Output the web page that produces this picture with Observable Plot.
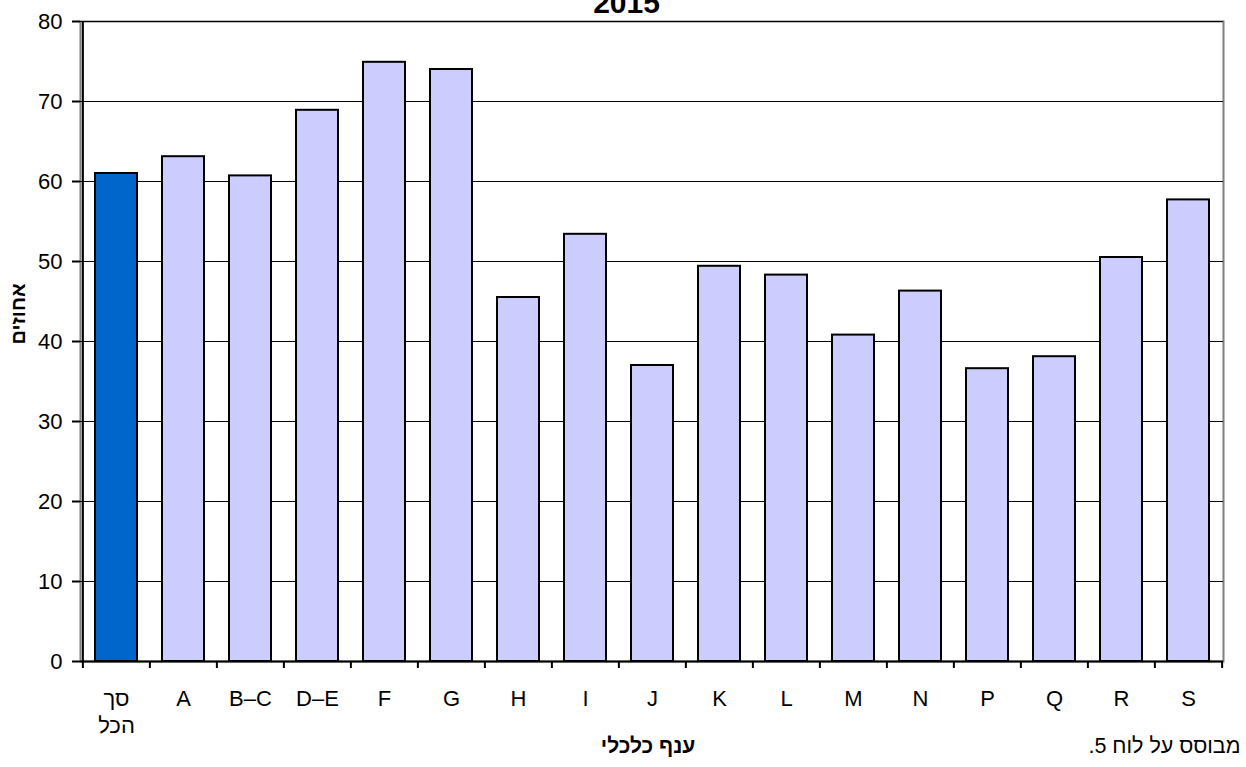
<!DOCTYPE html>
<html>
<head>
<meta charset="utf-8">
<script src="https://cdn.jsdelivr.net/npm/d3@7"></script>
<script src="https://cdn.jsdelivr.net/npm/@observablehq/plot@0.6"></script>
<style>
  html, body { margin: 0; padding: 0; background: #fff; }
  svg { font-family: "Liberation Sans", Arial, sans-serif; }
</style>
</head>
<body>
<div id="chart"></div>
<script>
const categories = ["סך הכל", "A", "B–C", "D–E", "F", "G", "H", "I", "J", "K", "L", "M", "N", "P", "Q", "R", "S"];
const values = [61.0, 63.1, 60.7, 68.9, 74.9, 74.0, 45.5, 53.4, 37.0, 49.4, 48.3, 40.8, 46.3, 36.6, 38.1, 50.5, 57.7];
const yTicks = [0, 10, 20, 30, 40, 50, 60, 70, 80];
const title = "2015";
const yLabel = "אחוזים";
const xLabel = "ענף כלכלי";
const caption = "מבוסס על לוח 5.\u200F";
const totalLabel = "סך הכל";

const data = categories.map((c, i) => ({cat: c, value: values[i]}));

const W = 1246, H = 767;
const mL = 80, mR = 23, mT = 21, mB = 106;
const step = (W - mL - mR) / categories.length;

const chart = Plot.plot({
  width: W,
  height: H,
  marginLeft: mL,
  marginRight: mR,
  marginTop: mT,
  marginBottom: mB,
  style: {fontFamily: "'Liberation Sans', Arial, sans-serif", fontSize: "22px", color: "#000", background: "#fff", overflow: "visible"},
  x: {domain: categories, paddingInner: 0.375, paddingOuter: 0.1875, label: null},
  y: {domain: [0, 80], ticks: yTicks, label: null},
  marks: [
    Plot.frame({stroke: "#808080", strokeWidth: 2}),
    Plot.gridY(yTicks, {stroke: "#000", strokeOpacity: 1, strokeWidth: 1}),
    Plot.barY(data, {
      x: "cat", y: "value",
      fill: d => d.cat === totalLabel ? "#0066CC" : "#CCCCFF",
      stroke: "#000", strokeWidth: 2
    }),
    // x axis baseline and left axis line
    Plot.ruleY([0], {stroke: "#000", strokeWidth: 2}),
    Plot.ruleX([categories[0]], {x: d => d, dx: -step / 2, y1: 0, y2: 80, stroke: "#000", strokeWidth: 2}),
    // category boundary ticks
    Plot.ruleX(categories, {x: d => d, dx: -step / 2, y1: 0, y2: 0, insetBottom: -7, stroke: "#000", strokeWidth: 2}),
    Plot.ruleX([categories[categories.length - 1]], {x: d => d, dx: step / 2, y1: 0, y2: 0, insetBottom: -7, stroke: "#000", strokeWidth: 2}),
    Plot.axisY(yTicks, {tickSize: 8, tickPadding: 10, stroke: "#000", strokeWidth: 2, fontSize: 22, label: null}),
    Plot.axisX({tickSize: 0, tickPadding: 26, fontSize: 22, lineHeight: 1.2, label: null,
      tickFormat: d => d === totalLabel ? "סך\nהכל" : d}),
    Plot.text([title], {frameAnchor: "top", lineAnchor: "middle", dy: -18.5, dx: -25.5, fontSize: 30, fontWeight: "bold"}),
    Plot.text([yLabel], {frameAnchor: "left", rotate: -90, dx: -62, dy: 3, fontSize: 20, fontWeight: "bold"}),
    Plot.text([xLabel], {frameAnchor: "bottom", dy: 91, dx: -4, fontSize: 21, fontWeight: "bold"}),
    Plot.text([caption], {frameAnchor: "bottom-right", textAnchor: "end", dy: 91, dx: 17, fontSize: 21.5})
  ]
});
document.getElementById("chart").appendChild(chart);
</script>
</body>
</html>
